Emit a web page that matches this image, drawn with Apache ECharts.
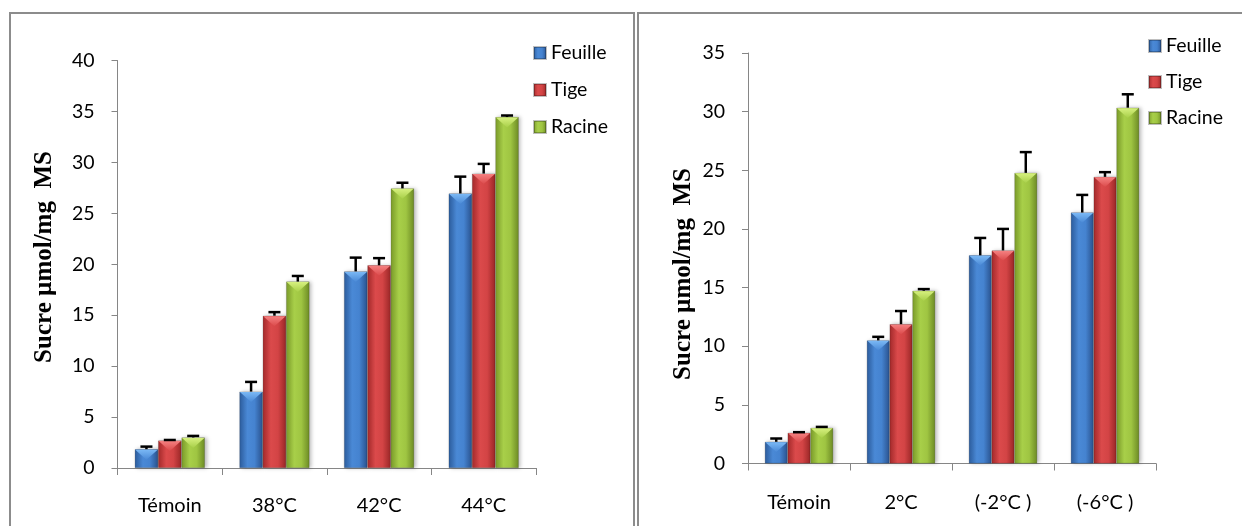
<!DOCTYPE html>
<html>
<head>
<meta charset="utf-8">
<script src="https://cdn.jsdelivr.net/npm/echarts@6/dist/echarts.min.js"></script>
<style>
html,body{margin:0;padding:0;background:#fff;}
#c{width:1242px;height:526px;}
</style>
</head>
<body>
<div id="c"></div>
<script>
// ---------- DATA ----------
const seriesNames = ['Feuille', 'Tige', 'Racine'];

const leftCategories = ['Témoin', '38°C', '42°C', '44°C'];
const leftFeuille = [1.85, 7.5, 19.3, 26.95];
const leftTige = [2.7, 14.95, 19.9, 28.9];
const leftRacine = [3.0, 18.3, 27.45, 34.45];
const leftFeuilleErr = [0.25, 0.95, 1.35, 1.65];
const leftTigeErr = [0.05, 0.35, 0.7, 0.95];
const leftRacineErr = [0.15, 0.55, 0.55, 0.15];
const leftTicks = { min: 0, max: 40, interval: 5 };

const rightCategories = ['Témoin', '2°C', '(-2°C )', '(-6°C )'];
const rightFeuille = [1.85, 10.5, 17.75, 21.4];
const rightTige = [2.62, 11.88, 18.17, 24.44];
const rightRacine = [3.04, 14.73, 24.78, 30.34];
const rightFeuilleErr = [0.28, 0.3, 1.48, 1.5];
const rightTigeErr = [0.05, 1.12, 1.83, 0.4];
const rightRacineErr = [0.08, 0.14, 1.77, 1.14];
const rightTicks = { min: 0, max: 35, interval: 5 };

const yTitle = 'Sucre µmol/mg  MS';

// ---------- STYLE ----------
const BAR_GAP = 0.33;
const palettes = [
  { stops: ['#2c5c9c', '#4a89d6', '#4583d0', '#29518d'], hi: ['#7ab8f5', '#4a89d6'] },
  { stops: ['#a32a2b', '#db4a4b', '#d34445', '#992626'], hi: ['#f58080', '#db4a4b'] },
  { stops: ['#7a9a2a', '#a8cf49', '#9fc542', '#6c8a24'], hi: ['#d6f07e', '#a8cf49'] }
];
function grad(p) {
  return new echarts.graphic.LinearGradient(0, 0, 1, 0, [
    { offset: 0, color: p.stops[0] },
    { offset: 0.35, color: p.stops[1] },
    { offset: 0.65, color: p.stops[2] },
    { offset: 1, color: p.stops[3] }
  ]);
}
const xLabelFont = { fontFamily: 'Lato', fontSize: 20, color: '#000', lineHeight: 22 };
const yLabelFont = { fontFamily: 'Lato', fontSize: 19.5, color: '#000', lineHeight: 22 };

function makeAxes(gridIndex, cats, ticks, xMargin) {
  return {
    x: {
      type: 'category', gridIndex, data: cats,
      axisLine: { lineStyle: { color: '#868686', width: 1 } },
      axisTick: { show: true, length: 7, lineStyle: { color: '#868686' } },
      axisLabel: Object.assign({ margin: xMargin }, xLabelFont)
    },
    y: {
      type: 'value', gridIndex, min: ticks.min, max: ticks.max, interval: ticks.interval,
      axisLine: { show: true, lineStyle: { color: '#868686', width: 1 } },
      axisTick: { show: true, length: 6, lineStyle: { color: '#868686' } },
      splitLine: { show: false },
      axisLabel: Object.assign({ margin: 23 }, yLabelFont)
    }
  };
}

function makeSeries(gridIndex, valuesList, errList) {
  const out = [];
  valuesList.forEach((vals, i) => {
    out.push({
      type: 'bar', name: seriesNames[i],
      xAxisIndex: gridIndex, yAxisIndex: gridIndex,
      data: vals,
      barGap: '0%', barCategoryGap: (BAR_GAP * 100) + '%',
      itemStyle: {
        color: grad(palettes[i]),
        borderColor: 'rgba(0,0,0,0.25)', borderWidth: 0.6,
        shadowColor: 'rgba(0,0,0,0.28)', shadowBlur: 4, shadowOffsetX: 2, shadowOffsetY: 0
      },
      emphasis: { disabled: true },
      animation: false
    });
  });
  valuesList.forEach((vals, i) => {
    const data = vals.map((v, k) => [k, v, errList[i][k]]);
    out.push({
      type: 'custom', name: 'err' + gridIndex + '_' + i,
      xAxisIndex: gridIndex, yAxisIndex: gridIndex,
      data, encode: { x: 0, y: 1 }, z: 5, animation: false, silent: true,
      renderItem: function (params, api) {
        const k = api.value(0), v = api.value(1), e = api.value(2);
        const base = api.coord([k, v]);
        const top = api.coord([k, v + e]);
        const band = api.size([1, 0])[0];
        const bw = band * (1 - BAR_GAP) / 3;
        const cx = base[0] + (i - 1) * bw;
        const th = bw * 0.45;
        return {
          type: 'group',
          children: [
            {
              type: 'polygon',
              shape: { points: [[cx - bw / 2 + 0.5, base[1] + 0.5], [cx + bw / 2 - 0.5, base[1] + 0.5], [cx, base[1] + th]] },
              style: {
                fill: new echarts.graphic.LinearGradient(0, 0, 0, 1, [
                  { offset: 0, color: palettes[i].hi[0] },
                  { offset: 1, color: palettes[i].hi[1] }
                ])
              }
            },
            {
              type: 'line',
              shape: { x1: cx, y1: base[1], x2: cx, y2: top[1] },
              style: { stroke: '#000', lineWidth: 2.5 }
            },
            {
              type: 'line',
              shape: { x1: cx - 6, y1: top[1], x2: cx + 6, y2: top[1] },
              style: { stroke: '#000', lineWidth: 2.5 }
            }
          ]
        };
      }
    });
  });
  return out;
}

const L = makeAxes(0, leftCategories, leftTicks, 27);
const R = makeAxes(1, rightCategories, rightTicks, 28);

const titleStyle = { text: yTitle, fontFamily: 'Liberation Serif', fontWeight: 'bold', fontSize: 25, fill: '#000', align: 'center', verticalAlign: 'middle' };
const legendText = { fontFamily: 'Lato', fontSize: 19.5, color: '#000', lineHeight: 18 };

const option = {
  backgroundColor: '#fff',
  animation: false,
  grid: [
    { left: 117.5, top: 60.5, width: 418.5, height: 407.5, outerBoundsMode: 'none' },
    { left: 748, top: 53, width: 408, height: 410.5, outerBoundsMode: 'none' }
  ],
  xAxis: [L.x, R.x],
  yAxis: [L.y, R.y],
  legend: [
    {
      orient: 'vertical', left: 533, top: 43, padding: 0, data: seriesNames,
      icon: 'rect', itemWidth: 12, itemHeight: 12, itemGap: 17,
      textStyle: legendText, selectedMode: false
    },
    {
      orient: 'vertical', left: 1148, top: 36, padding: 0, data: seriesNames,
      icon: 'rect', itemWidth: 12, itemHeight: 12, itemGap: 16,
      textStyle: legendText, selectedMode: false
    }
  ],
  graphic: [
    { type: 'rect', shape: { x: 10, y: 13, width: 624, height: 600 }, style: { fill: 'none', stroke: '#8c8c8c', lineWidth: 2 }, z: -1 },
    { type: 'rect', shape: { x: 638, y: 13, width: 700, height: 600 }, style: { fill: 'none', stroke: '#8c8c8c', lineWidth: 2 }, z: -1 },
    { type: 'text', x: 45, y: 257, rotation: Math.PI / 2, style: titleStyle },
    { type: 'text', x: 684, y: 274, rotation: Math.PI / 2, style: titleStyle }
  ],
  series: [].concat(
    makeSeries(0, [leftFeuille, leftTige, leftRacine], [leftFeuilleErr, leftTigeErr, leftRacineErr]),
    makeSeries(1, [rightFeuille, rightTige, rightRacine], [rightFeuilleErr, rightTigeErr, rightRacineErr])
  )
};

const chart = echarts.init(document.getElementById('c'), null, { renderer: 'canvas' });
chart.setOption(option);
</script>
</body>
</html>
